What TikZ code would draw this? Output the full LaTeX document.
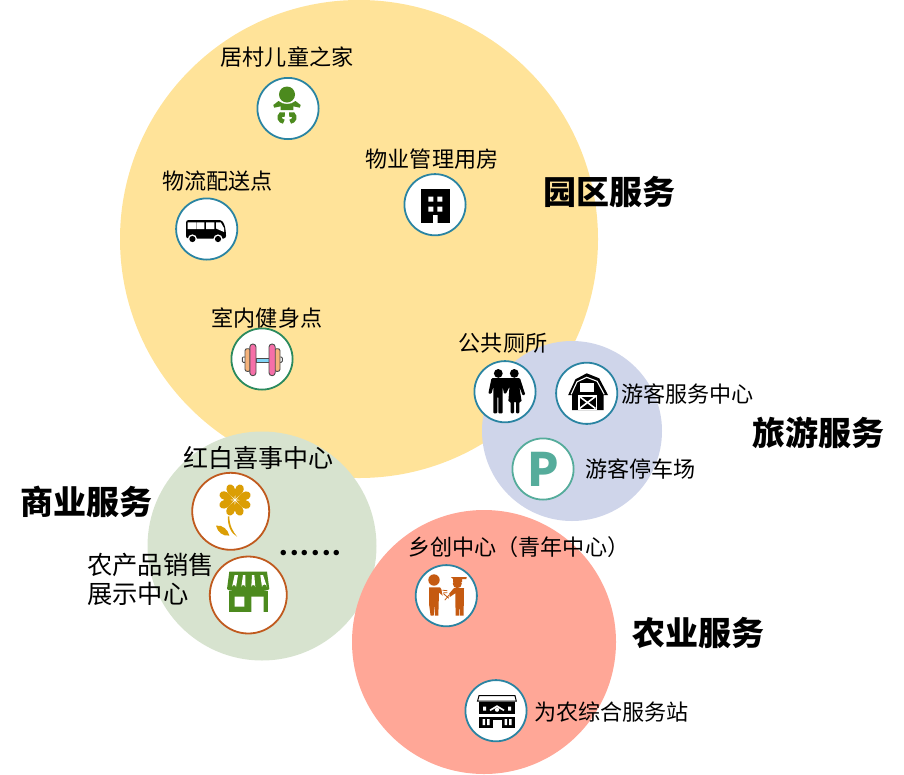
\documentclass[tikz,border=0pt]{standalone}
\usepackage{fontspec}
\setmainfont{Noto Sans CJK SC}
\newfontfamily\dotfont{Lato}
\newcommand{\dotcell}{\makebox[10.6pt]{.}}
\definecolor{cyellow}{HTML}{FFE399}
\definecolor{cblue}{HTML}{CFD5EA}
\definecolor{cgreen}{HTML}{D7E3CF}
\definecolor{cred}{HTML}{FFA797}
\definecolor{rteal}{HTML}{2A84A2}
\definecolor{rgreen}{HTML}{2B8A5E}
\definecolor{rorange}{HTML}{C05A1E}
\definecolor{rjade}{HTML}{55AC9B}
\definecolor{igreen}{HTML}{4C8A1E}
\definecolor{iorange}{HTML}{C55A11}
\definecolor{igold}{HTML}{DB9E05}
\definecolor{ipink}{HTML}{F56FA8}
\definecolor{ipeach}{HTML}{F5B27A}
\definecolor{isky}{HTML}{7FD3F5}
\tikzset{
  x=1pt,y=-1pt,
  zone/.style={circle,inner sep=0pt,draw=none},
  ring/.style={circle,inner sep=0pt,fill=white,draw=#1,line width=1.8pt,minimum size=61.2pt},
  ringb/.style={circle,inner sep=0pt,fill=white,draw=#1,line width=1.8pt,minimum size=77pt},
  label/.style={inner sep=0pt,font=\fontsize{22.1}{28}\selectfont,text=black},
  bigl/.style={inner sep=0pt,font=\fontsize{25}{30}\selectfont,text=black},
  bigm/.style={inner sep=0pt,font=\fontsize{25.3}{30}\selectfont,text=black},
  title/.style={inner sep=0pt,font=\fontsize{33}{38}\selectfont\bfseries,text=black},
}
\begin{document}
\begin{tikzpicture}
\useasboundingbox (0,0) rectangle (904,774);
% zones
\node[zone,fill=cyellow,minimum size=478pt] (zpark) at (359,239) {};
\node[zone,fill=cblue,minimum size=180pt] (ztour) at (572,431) {};
\node[zone,fill=cgreen,minimum size=229pt] (zbiz) at (262,546) {};
\node[zone,fill=cred,minimum size=264pt] (zagri) at (484,642) {};
% rings
\node[ring=rteal] (baby) at (288,108.5) {};
\node[ring=rteal] (bus) at (206.7,229) {};
\node[ring=rteal] (bldg) at (435,204.7) {};
\node[ring=rgreen] (gym) at (262,359) {};
\node[ring=rteal] (wc) at (505,391.7) {};
\node[ring=rteal] (barn) at (586.7,393.3) {};
\node[ring=rjade] (park) at (543,469) {};
\node[ringb=rorange] (flower) at (230.7,511.3) {};
\node[ringb=rorange] (shop) at (248.3,595) {};
\node[ring=rteal] (hand) at (446.3,595.7) {};
\node[ring=rteal] (stn) at (496,710.7) {};
% labels
\node[label] (t1) at (287,57) {居村儿童之家};
\node[label] (t2) at (217.5,181) {物流配送点};
\node[label] (t3) at (432,159) {物业管理用房};
\node[label] (t4) at (267,318) {室内健身点};
\node[label] (t5) at (503,343) {公共厕所};
\node[label,anchor=west] (t6) at (621,394) {游客服务中心};
\node[label,anchor=west] (t7) at (585,469) {游客停车场};
\node[bigl] (t8) at (258.5,458) {红白喜事中心};
\node[bigm,anchor=west] (t9) at (87,565) {农产品销售};
\node[bigm,anchor=west] (t10) at (87,594) {展示中心};
\node[label,anchor=west] (t11) at (408,547) {乡创中心（青年中心）};
\node[label,anchor=west] (t12) at (534,712) {为农综合服务站};
\node[title] (h1) at (609,192) {园区服务};
\node[title] (h2) at (818,433) {旅游服务};
\node[title] (h3) at (86.5,502) {商业服务};
\node[title] (h4) at (698,633) {农业服务};
\node[inner sep=0pt,anchor=base,font=\dotfont\bfseries\fontsize{36}{38}\selectfont] (more) at (310.5,555.5) {\dotcell\dotcell\dotcell\dotcell\dotcell\dotcell};
\node[inner sep=0pt,text=rjade,font=\fontsize{46}{50}\selectfont\bfseries] (pp) at (park) {P};
% baby
\begin{scope}[shift={(baby.center)},xshift=-1pt,igreen]
\fill (0,-14) circle (8);
\fill (-13.7,-3.5) -- (-8.5,-7.5) .. controls (-4,-3.5) and (4,-3.5) .. (8.5,-7.5) -- (13.7,-3.5) -- (12.8,-.8) -- (6.3,-2.2) -- (6.3,1.5) -- (-6.3,1.5) -- (-6.3,-2.2) -- (-12.8,-.8) -- cycle;
\draw[line width=4.4pt] (-2.2,6.2) -- (-6,6) .. controls (-8.5,8) and (-7.5,12.5) .. (-3.2,13.2);
\draw[line width=4.4pt] (2.2,6.2) -- (6,6) .. controls (8.5,8) and (7.5,12.5) .. (3.2,13.2);
\end{scope}
% bus
\begin{scope}[shift={(bus.center)}]
\fill[rounded corners=2.5pt] (-20.7,-9) -- (15,-9) -- (18,-4) -- (19.3,4) -- (19.3,9.5) -- (-20.7,9.5) -- cycle;
\fill[white] (-19,-6.7) rectangle (-10.7,0) (-10,-6.7) rectangle (-2.3,0) (-.7,-6.7) rectangle (7.7,0);
\fill[white] (9.3,-6.7) -- (14,-6.7) -- (17.3,-1) -- (17.3,3) -- (9.3,-0.5) -- cycle;
\fill[white] (-14.3,10) circle (4.6) (11.3,10) circle (4.6);
\fill (-14.3,10) circle (3.1) (11.3,10) circle (3.1);
\end{scope}
% building
\begin{scope}[shift={(bldg.center)}]
\fill (-14,-15.3) rectangle (14.5,18.7);
\fill[white] (-6.7,-8) rectangle (-1.7,-3) (2.3,-8) rectangle (7.3,-3) (-6.7,2) rectangle (-1.7,7) (2.3,2) rectangle (7.3,7) (-1.9,10.3) rectangle (2.6,18.7);
\end{scope}
% dumbbell
\begin{scope}[shift={(gym.center)},draw=black!70,line width=.9pt]
\filldraw[fill=white,rounded corners=1pt] (-19.7,-2) rectangle (-16,3.3) (16,-2) rectangle (20.3,3.3);
\filldraw[fill=ipeach,rounded corners=2pt] (-17,-10.3) rectangle (-11.5,12.3);
\filldraw[fill=ipeach,rounded corners=2pt] (12.5,-10.3) rectangle (18,12.3);
\filldraw[fill=isky] (-6,-1) rectangle (7,3);
\filldraw[fill=ipink,rounded corners=3pt] (-12.2,-15) rectangle (-6,16.7);
\filldraw[fill=ipink,rounded corners=3pt] (7,-15) rectangle (13.2,16.7);
\end{scope}
% flower
\begin{scope}[shift={(flower.center)},igold]
\foreach \a in {0,45,...,315}
  \fill[shift={(4.3,-11.3)},rotate=\a+22] (1.2,0) .. controls (4,-1) and (9,-5.2) .. (13.2,-3.9) .. controls (17.6,-2.5) and (17.6,2.5) .. (13.2,3.9) .. controls (9,5.2) and (4,1) .. (1.2,0) -- cycle;
\fill (-2.8,5) .. controls (-3.2,14) and (0,22) .. (6.5,25.5) .. controls (2,20) and (-1.3,14) .. (-1.4,5) -- cycle;
\fill (-14.7,14.3) .. controls (-8,13.5) and (-3,18) .. (-1.3,24.3) .. controls (-8,25) and (-13,21) .. (-14.7,14.3) -- cycle;
\end{scope}
% shop
\begin{scope}[shift={(shop.center)},igreen]
\fill (-19,-23.3) -- (18.7,-23.3) -- (21,-6) .. controls (21,-2.5) and (-21.3,-2.5) .. (-21.3,-6) -- cycle;
\fill (-19,-4) rectangle (19.7,17.3);
\fill[white] (-13.7,1.7) rectangle (-4,11.7) (3,1.7) rectangle (15.3,17.3);
\fill[white] (-13.7,-20) -- (-10.3,-20) -- (-12.3,-8) arc (0:-180:2) -- cycle;
\fill[white] (-5.3,-20) -- (-3,-20) -- (-3,-8) arc (0:-180:2) -- cycle;
\fill[white] (3.7,-20) -- (6,-20) -- (7,-8) arc (0:-180:2) -- cycle;
\fill[white] (12,-20) -- (14.7,-20) -- (18.7,-8) arc (0:-180:2.5) -- cycle;
\end{scope}
% toilets
\begin{scope}[shift={(wc.center)}]
\fill (-6.7,-18.3) circle (4.4) (9.3,-18.3) circle (4.4);
\fill[rounded corners=1pt] (-13.5,-13.5) -- (-1,-13.5) -- (3,-13.5) -- (7,-13.5) -- (15,-13.5) -- (20.3,3) -- (17.7,3.8) -- (14.3,-5) -- (16.7,10) -- (14.3,10) -- (14.3,21.7) -- (11,21.7) -- (11,10) -- (9,10) -- (9,21.7) -- (5.7,21.7) -- (5.7,10) -- (3.3,10) -- (4.5,-5) -- (1,2) -- (-1,2) -- (-2.3,-5) -- (-2.3,21.7) -- (-6.7,21.7) -- (-6.7,5) -- (-7.7,5) -- (-7.7,21.7) -- (-11.7,21.7) -- (-11.7,-5) -- (-13.5,2) -- (-16.7,2) -- cycle;
\end{scope}
% barn
\begin{scope}[shift={(barn.center)}]
\fill (0,-20) -- (12.5,-15) -- (21.3,1.7) -- (17,1.7) -- (17,16.7) -- (-14.7,16.7) -- (-14.7,1.7) -- (-18.5,1.7) -- (-11.3,-14) -- cycle;
\draw[white,line width=1.1pt] (-15.5,1) -- (-9.7,-11.5) -- (0,-16) -- (10.5,-12) -- (17.5,1);
\fill[white] (-6.3,-10) rectangle (7,-1);
\fill[white] (-8.7,1.7) rectangle (10.3,16.7);
\fill (-7.2,3.2) rectangle (8.8,15.2);
\draw[white,line width=1.6pt] (-7.2,3.2) -- (8.8,15.2) (8.8,3.2) -- (-7.2,15.2);
\end{scope}
% handshake
\begin{scope}[shift={(hand.center)},iorange]
\fill (-12.3,-15.7) circle (5.7);
\fill (-17.3,-8.3) -- (-6.3,-8.3) -- (-.5,-1) -- (-2,1.2) -- (-7.3,-3) -- (-8,20) -- (-11.4,20) -- (-12,7) -- (-12.6,20) -- (-15.7,20) -- (-17.3,8) -- cycle;
\fill (11,-12) circle (4.5);
\fill (4.5,-18.7) -- (20.5,-18.7) -- (20,-16.7) -- (15.8,-16.7) -- (15.8,-13.5) -- (6.8,-13.5) -- (6.8,-16.7) -- cycle;
\fill (7.7,-7.7) -- (17.7,-7.7) -- (17.3,20) -- (13.7,20) -- (13.2,7) -- (12.7,20) -- (9.3,20) -- (9,-2.5) -- (2.5,2) -- (1,0) -- cycle;
\fill[white] (-5,-7.7) -- (2,-7.7) -- (4.3,6.7) -- (-2.5,6.7) -- cycle;
\draw[iorange,line width=.8pt] (-3.8,-5.5) -- (1,-5) (-2.8,-2) -- (2.5,2.5) (-1.5,4.5) -- (3,-1) (-3,-3) -- (1,-3);
\end{scope}
% service station
\begin{scope}[shift={(stn.center)}]
\fill (-16.7,-9) rectangle (19,17.7);
\draw[line width=1pt,fill=white] (-17,-15) -- (19,-15) -- (20.3,-9.5) -- (-18.5,-9.5) -- cycle;
\fill[white] (1,-5.5) -- (-6.5,-1) -- (-5.5,.3) -- (1,-3.5) -- (7.5,.3) -- (8.5,-1) -- cycle;
\fill[white] (1,-1) circle (2.1);
\fill[white] (-13,-4) rectangle (-10,0) (12,-4) rectangle (15,0);
\fill[white] (-16.7,3.2) rectangle (19,5.8);
\fill[white] (-3.5,9) rectangle (5.5,17.7);
\fill[white] (-13.5,8.5) rectangle (-11,14.5) (-9,8.5) rectangle (-6.5,14.5) (8.5,8.5) rectangle (11,14.5) (13,8.5) rectangle (15.5,14.5);
\end{scope}
\end{tikzpicture}
\end{document}
